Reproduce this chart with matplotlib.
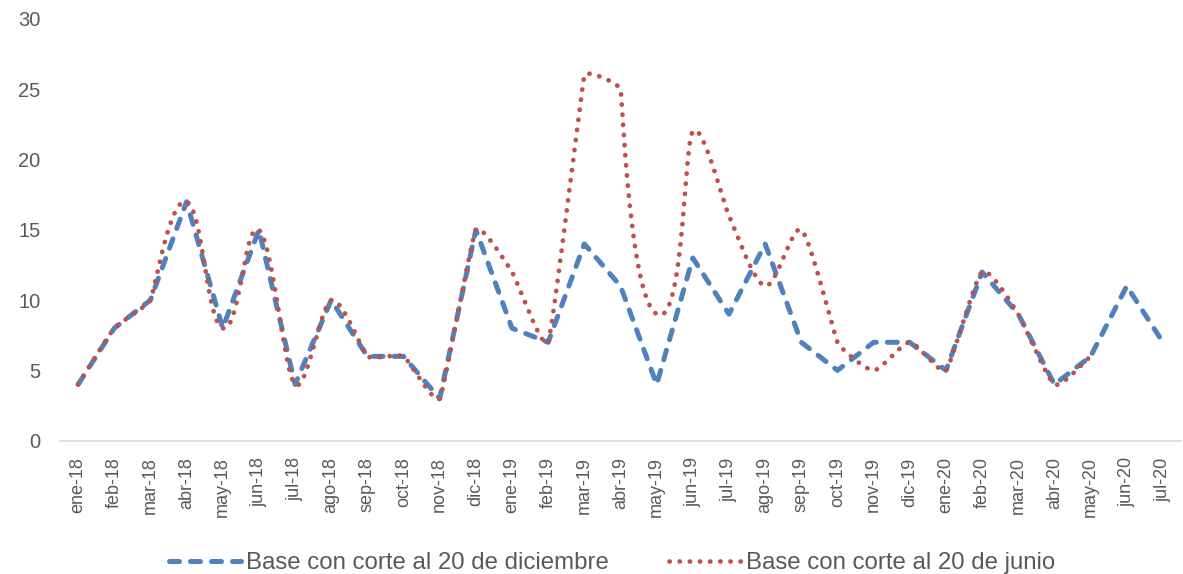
import numpy as np
import matplotlib
matplotlib.use("Agg")
import matplotlib.pyplot as plt
from matplotlib.lines import Line2D

meses = ["ene-18", "feb-18", "mar-18", "abr-18", "may-18", "jun-18", "jul-18",
         "ago-18", "sep-18", "oct-18", "nov-18", "dic-18",
         "ene-19", "feb-19", "mar-19", "abr-19", "may-19", "jun-19", "jul-19",
         "ago-19", "sep-19", "oct-19", "nov-19", "dic-19",
         "ene-20", "feb-20", "mar-20", "abr-20", "may-20", "jun-20", "jul-20"]

corte_diciembre = [4, 8, 10, 17, 8, 15, 4, 10, 6, 6, 3, 15,
                   8, 7, 14, 11, 4, 13, 9, 14, 7, 5, 7, 7,
                   5, 12, 9, 4, 6, 11, 7]

corte_junio = [4, 8, 10, 17, 8, 15, 4, 10, 6, 6, 3, 15,
               12, 7, 26, 25, 9, 22, 16, 11, 15, 7, 5, 7,
               5, 12, 9, 4, 6]

AZUL = "#4F81BD"
ROJO = "#C0504D"
GRIS = "#595959"

# pixeles por unidad en cada eje, para suavizar en el espacio de la pantalla
ESC_X, ESC_Y = 36.2, 14.06


def suavizar(x, y, k=0.17, n=30):
    # linea suavizada: Bezier cubicas con tangentes segun los vecinos;
    # el largo de la tangente depende del tramo mas corto a cada lado
    p = np.column_stack([np.asarray(x, float) * ESC_X, np.asarray(y, float) * ESC_Y])
    m = len(p)
    tang = np.zeros_like(p)
    for i in range(m):
        d = p[min(i + 1, m - 1)] - p[max(i - 1, 0)]
        lados = [np.hypot(*(p[j] - p[i])) for j in (i - 1, i + 1) if 0 <= j < m]
        tang[i] = d / np.hypot(*d) * min(lados) * k
    t = np.linspace(0, 1, n, endpoint=False)[:, None]
    trazo = []
    for i in range(m - 1):
        p0, p3 = p[i], p[i + 1]
        c1 = p0 + tang[i]
        c2 = p3 - tang[i + 1]
        trazo.append((1 - t) ** 3 * p0 + 3 * (1 - t) ** 2 * t * c1
                     + 3 * (1 - t) * t ** 2 * c2 + t ** 3 * p3)
    trazo.append(p[-1:])
    trazo = np.vstack(trazo)
    return trazo[:, 0] / ESC_X, trazo[:, 1] / ESC_Y


plt.rcParams["font.family"] = ["Liberation Sans", "DejaVu Sans"]

fig = plt.figure(figsize=(11.83, 5.74), dpi=100)
ax = fig.add_axes([60 / 1183, 1 - 440.7 / 574, 1121 / 1183, 421.7 / 574])

estilo_azul = dict(color=AZUL, lw=3.6, linestyle=(0, (2.0, 2.2)), dash_capstyle="round")
estilo_rojo = dict(color=ROJO, lw=3.4, linestyle=(0, (0.05, 2.1)), dash_capstyle="round")

x = np.arange(len(meses))
ax.plot(x, corte_diciembre, dash_joinstyle="round", zorder=2, **estilo_azul)

xj, yj = suavizar(np.arange(len(corte_junio)), corte_junio)
ax.plot(xj, yj, zorder=3, **estilo_rojo)

ax.set_xlim(-0.5, len(meses) - 0.5)
ax.set_ylim(0, 30)
ax.set_yticks(range(0, 31, 5))
ax.set_xticks(x)
ax.set_xticklabels(meses, rotation=90, fontsize=13, color=GRIS)
ax.tick_params(axis="y", length=0, pad=14, labelsize=14.5, labelcolor=GRIS)
ax.tick_params(axis="x", length=0, pad=12)

for lado in ["top", "right", "left"]:
    ax.spines[lado].set_visible(False)
ax.spines["bottom"].set_color("#D9D9D9")
ax.spines["bottom"].set_linewidth(1.2)

handles = [Line2D([], [], **estilo_azul), Line2D([], [], **estilo_rojo)]
fig.legend(handles, ["Base con corte al 20 de diciembre", "Base con corte al 20 de junio"],
           loc="center", bbox_to_anchor=(612 / 1183, 1 - 563 / 574), ncol=2,
           frameon=False, fontsize=17.3, labelcolor=GRIS, handlelength=3.0,
           handletextpad=0.2, columnspacing=2.5, borderpad=0)

fig.savefig("out.png", dpi=100)
